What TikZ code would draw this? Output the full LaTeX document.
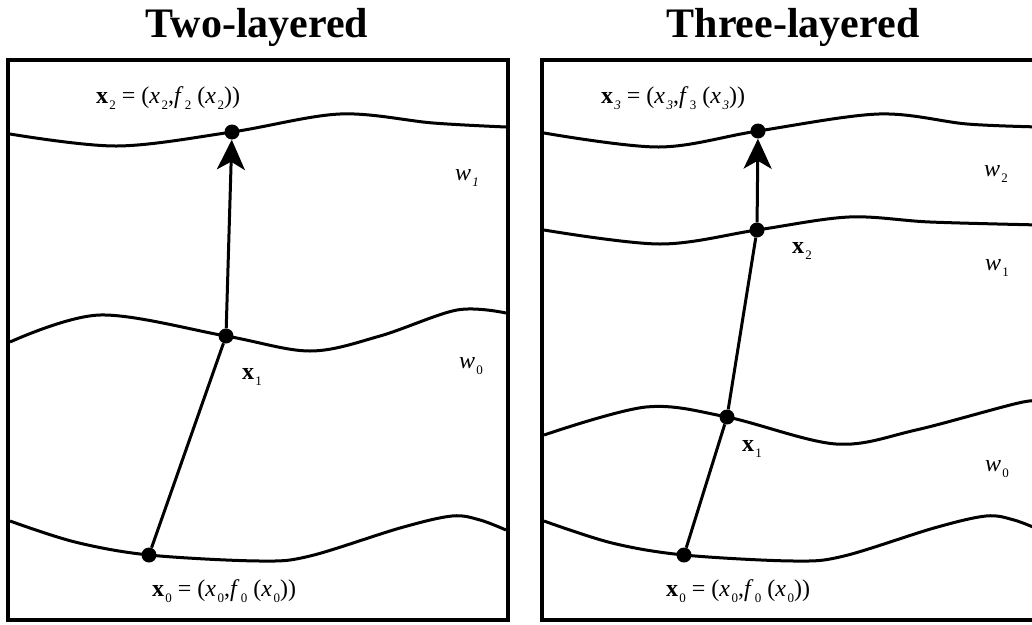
\documentclass[tikz,border=0pt]{standalone}
\usepackage{fontspec}
\setmainfont{Liberation Serif}
\usetikzlibrary{arrows.meta}
\newcommand{\sbs}[1]{\kern0.06em\raisebox{-0.22em}{\fontsize{13}{13}\selectfont #1}}
\begin{document}
\begin{tikzpicture}[x=1pt,y=-1pt,
  frame/.style={line width=3.3pt},
  layer/.style={line width=3pt, smooth, tension=0.55},
  dotnode/.style={circle, fill=black, inner sep=0pt, minimum size=15pt},
  link/.style={line width=3pt},
  uparrow/.style={line width=3pt, -{Stealth[length=30pt,width=28pt,inset=8pt]}},
  lbl/.style={font=\fontsize{24}{26}\selectfont, inner sep=0pt},
  ttl/.style={font=\fontsize{42}{44}\selectfont\bfseries, inner sep=0pt, anchor=base}
]
\useasboundingbox (0,0) rectangle (1032,624);
% titles
\node[ttl] (t1) at (257,37) {Two-layered};
\node[ttl] (t2) at (793,37) {Three-layered};
% frames
\draw[frame] (8,60) rectangle (508,620);
\draw[frame] (542,60) rectangle (1042,620);
% left layers
\draw[layer] plot coordinates {(10,134) (117,146) (232,132) (340,114) (433,123) (506,127)};
\draw[layer] plot coordinates {(10,342) (100,315) (226,336) (310,351) (380,336) (457,310) (506,313)};
\draw[layer] plot coordinates {(10,521) (75,542) (149,555) (260,561) (310,556) (400,528) (452,516) (480,520) (506,530)};
% right layers
\draw[layer] plot coordinates {(544,133) (659,147) (758,131) (879,114) (967,124) (1040,127)};
\draw[layer] plot coordinates {(544,230) (660,244) (757,230) (849,217) (930,222) (1040,225)};
\draw[layer] plot coordinates {(544,435) (646,407) (727,417) (836,444) (916,430) (1023,402) (1045,404)};
\draw[layer] plot coordinates {(544,521) (612,543) (684,555) (794,561) (844,556) (934,528) (986,516) (1014,520) (1040,530)};
% left points
\node[dotnode] (a0) at (149,555) {};
\node[dotnode] (a1) at (226,336) {};
\node[dotnode] (a2) at (232,132) {};
\draw[link] (a0) -- (a1);
\draw[uparrow] (a1) -- (a2);
% right points
\node[dotnode] (b0) at (684,555) {};
\node[dotnode] (b1) at (727,417) {};
\node[dotnode] (b2) at (757,230) {};
\node[dotnode] (b3) at (758,131) {};
\draw[link] (b0) -- (b1);
\draw[link] (b1) -- (b2);
\draw[uparrow] (b2) -- (b3);
% left labels
\node[lbl] (la2) at (168,98) {\textbf{x}\sbs{2} = (\textit{x}\sbs{2},\textit{f}\sbs{2} (\textit{x}\sbs{2}))};
\node[lbl] (lw1) at (467,178) {\textit{w}\sbs{\textit{1}}};
\node[lbl] (la1) at (252,377) {\textbf{x}\sbs{1}};
\node[lbl] (lw0) at (471,366) {\textit{w}\sbs{0}};
\node[lbl] (la0) at (224,591) {\textbf{x}\sbs{0} = (\textit{x}\sbs{0},\textit{f}\sbs{0} (\textit{x}\sbs{0}))};
% right labels
\node[lbl] (rb3) at (673,98) {\textbf{x}\sbs{\textit{3}} = (\textit{x}\sbs{\textit{3}},\textit{f}\sbs{3} (\textit{x}\sbs{\textit{3}}))};
\node[lbl] (rw2) at (996,174) {\textit{w}\sbs{2}};
\node[lbl] (rb2) at (802,251) {\textbf{x}\sbs{2}};
\node[lbl] (rw1) at (997,268) {\textit{w}\sbs{1}};
\node[lbl] (rb1) at (752,449) {\textbf{x}\sbs{1}};
\node[lbl] (rw0) at (997,469) {\textit{w}\sbs{0}};
\node[lbl] (rb0) at (738,591) {\textbf{x}\sbs{0} = (\textit{x}\sbs{0},\textit{f}\sbs{0} (\textit{x}\sbs{0}))};
\end{tikzpicture}
\end{document}
